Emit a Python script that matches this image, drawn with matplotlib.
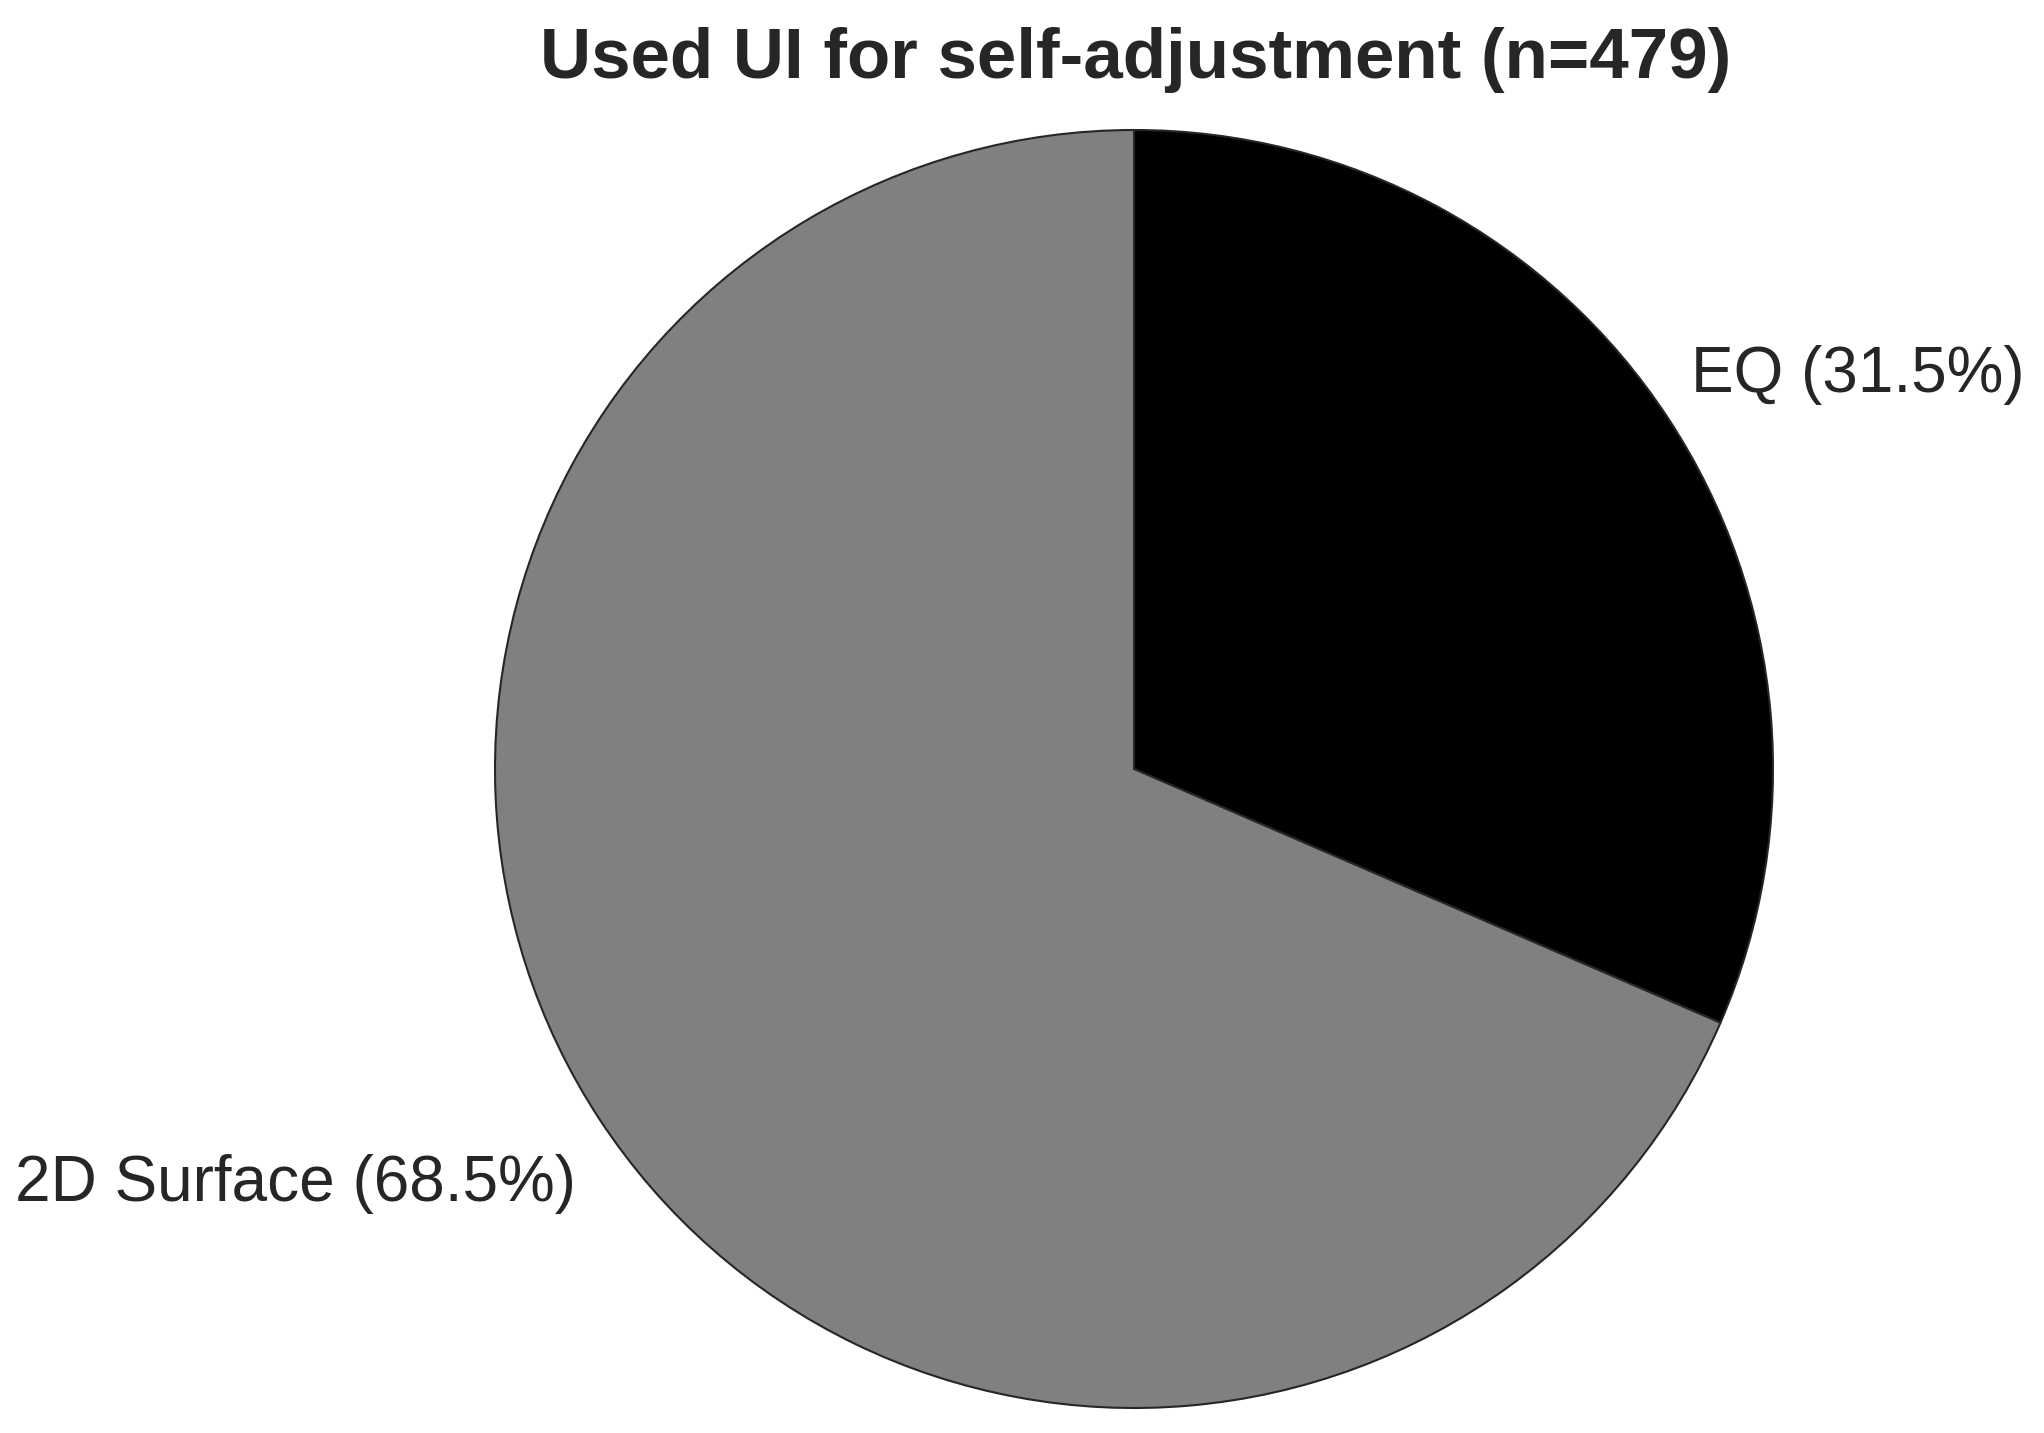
import matplotlib.pyplot as plt

# data
labels = ["EQ", "2D Surface"]
shares = [31.5, 68.5]
colors = ["#000000", "#808080"]
title = "Used UI for self-adjustment (n=479)"

W, H = 2044, 1433
cx, cy, r = 1134, 769, 639  # pie centre / radius in pixels

fig = plt.figure(figsize=(W / 100, H / 100), dpi=100)
ax = fig.add_axes([(cx - r) / W, (H - cy - r) / H, 2 * r / W, 2 * r / H])

wedges, texts = ax.pie(
    shares,
    labels=[f"{l} ({s:.1f}%)" for l, s in zip(labels, shares)],
    colors=colors,
    startangle=90,
    counterclock=False,
    radius=1,
    labeldistance=1.1,
    wedgeprops=dict(edgecolor="#262626", linewidth=1.5),
    textprops=dict(fontsize=46, color="#262626", family=["Liberation Sans", "DejaVu Sans"]),
)
ax.set_xlim(-1, 1)
ax.set_ylim(-1, 1)

# move labels to where the reference puts them (baseline anchored)
texts[0].set_position((0.872, 0.590))
texts[0].set_ha("left")
texts[0].set_va("baseline")
texts[1].set_position((-0.873, -0.676))
texts[1].set_ha("right")
texts[1].set_va("baseline")

fig.text(1136 / W, (H - 78) / H, title, ha="center", va="baseline",
         fontsize=51, fontweight="bold", color="#262626",
         family=["Liberation Sans", "DejaVu Sans"])

fig.savefig("out.png", dpi=100, facecolor="white")
